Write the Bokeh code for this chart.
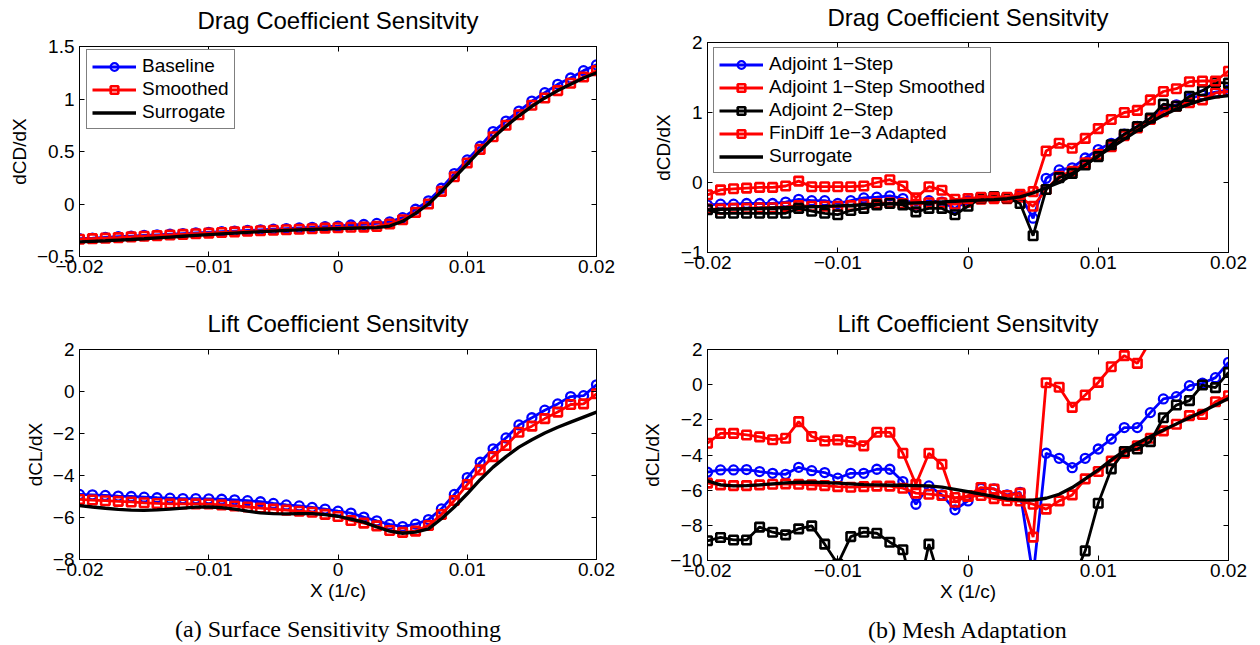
import numpy as np
from bokeh.plotting import figure
from bokeh.models import (Range1d, LinearAxis, FixedTicker, Legend, LegendItem,
                          CustomJSTickFormatter)
from bokeh.layouts import column, row
from bokeh.embed import file_html
from bokeh.resources import INLINE

# ---------------- data ----------------
x_pts = np.round(np.arange(-20, 21) * 0.001, 3)
x_ticks = [-0.02, -0.01, 0, 0.01, 0.02]

# (a) Surface sensitivity smoothing - drag
cd_baseline = [-0.33, -0.325, -0.318, -0.312, -0.306, -0.30, -0.294, -0.288, -0.282, -0.276,
               -0.27, -0.264, -0.258, -0.252, -0.246, -0.24, -0.234, -0.228, -0.222, -0.216,
               -0.21, -0.20, -0.195, -0.185, -0.17, -0.13, -0.05, 0.03, 0.15, 0.29,
               0.42, 0.55, 0.69, 0.79, 0.885, 0.98, 1.06, 1.14, 1.20, 1.27, 1.325]
cd_smoothed = [-0.335, -0.33, -0.325, -0.32, -0.313, -0.307, -0.301, -0.295, -0.289, -0.283,
               -0.277, -0.271, -0.265, -0.26, -0.255, -0.25, -0.245, -0.24, -0.235, -0.23,
               -0.226, -0.222, -0.22, -0.213, -0.19, -0.15, -0.08, 0.0, 0.12, 0.26,
               0.39, 0.52, 0.64, 0.75, 0.85, 0.94, 1.01, 1.08, 1.15, 1.21, 1.27]
cd_surrogate = [-0.36, -0.355, -0.35, -0.344, -0.338, -0.331, -0.323, -0.315, -0.307, -0.299,
                -0.291, -0.284, -0.277, -0.27, -0.264, -0.258, -0.252, -0.247, -0.242, -0.238,
                -0.234, -0.231, -0.228, -0.225, -0.21, -0.165, -0.09, 0.0, 0.12, 0.25,
                0.38, 0.51, 0.63, 0.74, 0.84, 0.93, 1.01, 1.08, 1.14, 1.20, 1.25]

# (a) lift
cl_baseline = [-4.9, -4.92, -4.95, -4.98, -5.0, -5.03, -5.06, -5.08, -5.1, -5.1,
               -5.11, -5.13, -5.16, -5.2, -5.25, -5.33, -5.4, -5.45, -5.52, -5.6,
               -5.7, -5.79, -5.98, -6.16, -6.33, -6.43, -6.32, -6.1, -5.59, -4.9,
               -4.1, -3.37, -2.73, -2.21, -1.59, -1.25, -0.89, -0.59, -0.24, -0.2, 0.32]
cl_smoothed = [-5.14, -5.17, -5.2, -5.23, -5.26, -5.3, -5.33, -5.35, -5.35, -5.35,
               -5.36, -5.4, -5.45, -5.5, -5.55, -5.6, -5.65, -5.7, -5.75, -5.85,
               -5.95, -6.14, -6.27, -6.4, -6.62, -6.71, -6.65, -6.38, -5.86, -5.19,
               -4.43, -3.73, -3.1, -2.57, -1.94, -1.65, -1.29, -0.98, -0.62, -0.59, -0.11]
cl_surrogate = [-5.43, -5.5, -5.56, -5.61, -5.65, -5.66, -5.64, -5.6, -5.55, -5.51,
                -5.5, -5.53, -5.6, -5.7, -5.78, -5.82, -5.83, -5.82, -5.82, -5.86,
                -5.94, -6.08, -6.22, -6.45, -6.65, -6.75, -6.7, -6.54, -6.06, -5.5,
                -4.87, -4.2, -3.6, -3.1, -2.65, -2.3, -1.98, -1.7, -1.46, -1.22, -0.98]

# (b) Mesh adaptation - drag
cd_adj1 = [-0.32, -0.31, -0.31, -0.30, -0.30, -0.30, -0.28, -0.24, -0.26, -0.26,
           -0.30, -0.26, -0.22, -0.21, -0.19, -0.23, -0.32, -0.26, -0.28, -0.37,
           -0.26, -0.22, -0.21, -0.22, -0.18, -0.51, 0.06, 0.18, 0.21, 0.35,
           0.47, 0.56, 0.69, 0.80, 0.91, 1.04, 1.11, 1.20, 1.25, 1.29, 1.32]
cd_adj1_smooth = [-0.38, -0.38, -0.37, -0.37, -0.36, -0.36, -0.35, -0.33, -0.34, -0.34,
                  -0.34, -0.33, -0.31, -0.30, -0.29, -0.30, -0.31, -0.29, -0.29, -0.31,
                  -0.28, -0.24, -0.23, -0.23, -0.21, -0.34, -0.10, 0.09, 0.16, 0.28,
                  0.40, 0.51, 0.67, 0.78, 0.90, 1.01, 1.09, 1.14, 1.18, 1.28, 1.30]
cd_adj2 = [-0.39, -0.44, -0.44, -0.44, -0.44, -0.44, -0.44, -0.37, -0.41, -0.44,
           -0.46, -0.40, -0.37, -0.32, -0.30, -0.32, -0.42, -0.37, -0.37, -0.46,
           -0.34, -0.22, -0.20, -0.22, -0.30, -0.76, -0.10, 0.07, 0.13, 0.25,
           0.37, 0.54, 0.69, 0.80, 0.92, 1.12, 1.09, 1.23, 1.31, 1.43, 1.42]
cd_findiff = [-0.176, -0.105, -0.09, -0.08, -0.07, -0.07, -0.05, 0.02, -0.06, -0.06,
              -0.06, -0.06, -0.05, 0.0, 0.04, -0.05, -0.22, -0.06, -0.11, -0.24,
              -0.23, -0.21, -0.21, -0.21, -0.17, -0.13, 0.45, 0.56, 0.49, 0.63,
              0.77, 0.90, 1.00, 1.03, 1.18, 1.30, 1.34, 1.44, 1.45, 1.45, 1.59]
cd_surr_b = [-0.39, -0.385, -0.38, -0.375, -0.37, -0.364, -0.358, -0.352, -0.346, -0.34,
             -0.333, -0.326, -0.32, -0.313, -0.306, -0.299, -0.292, -0.285, -0.277, -0.268,
             -0.26, -0.253, -0.245, -0.232, -0.205, -0.15, -0.075, 0.0, 0.11, 0.25,
             0.38, 0.50, 0.62, 0.74, 0.86, 0.96, 1.05, 1.12, 1.18, 1.22, 1.24]

# (b) lift
cl_adj1 = [-4.98, -4.85, -4.85, -4.83, -4.94, -5.04, -5.1, -4.7, -4.89, -5.0,
           -5.32, -5.04, -5.04, -4.81, -4.81, -5.51, -6.8, -5.76, -6.27, -7.12,
           -6.61, -5.9, -5.93, -6.27, -6.12, -10.9, -3.9, -4.19, -4.72, -4.19,
           -3.66, -3.09, -2.44, -2.44, -1.59, -0.81, -0.68, -0.06, 0.08, 0.4, 1.27]
cl_adj1_smooth = [-5.6, -5.7, -5.74, -5.74, -5.7, -5.66, -5.64, -5.66, -5.7, -5.74,
                  -5.8, -5.83, -5.8, -5.77, -5.77, -5.89, -6.17, -6.23, -6.3, -6.42,
                  -6.36, -6.3, -6.48, -6.6, -6.62, -6.8, -7.08, -6.61, -6.27, -5.36,
                  -4.94, -4.34, -3.9, -3.47, -3.05, -2.63, -2.25, -1.76, -1.69, -0.97, -0.63]
cl_adj2 = [-8.88, -8.69, -8.83, -8.83, -8.1, -8.39, -8.54, -8.2, -8.03, -9.07,
           -10.2, -8.64, -8.39, -8.45, -8.96, -9.39, -12.5, -9.07, -11.5, -12.0,
           -12.0, -12.0, -12.0, -12.0, -12.0, -13.0, -12.0, -12.0, -11.2, -9.45,
           -6.74, -4.79, -3.8, -3.66, -3.24, -1.88, -1.16, -0.91, -0.02, -0.17, 0.7]
cl_findiff = [-3.33, -2.77, -2.77, -2.86, -2.97, -3.13, -3.05, -2.1, -2.95, -3.2,
              -3.14, -3.24, -3.48, -2.71, -2.71, -3.9, -5.66, -3.9, -4.53, -6.69,
              -6.3, -5.85, -5.93, -6.3, -6.17, -8.67, 0.11, -0.15, -1.29, -0.59,
              0.13, 1.02, 1.65, 1.21, 2.5, 3.0, 3.3, 3.7, 4.0, 4.4, 4.8]
cl_surr_b = [-5.47, -5.7, -5.76, -5.74, -5.7, -5.64, -5.59, -5.55, -5.55, -5.57,
             -5.6, -5.64, -5.68, -5.7, -5.72, -5.72, -5.74, -5.76, -5.83, -5.95,
             -6.08, -6.23, -6.36, -6.5, -6.55, -6.57, -6.46, -6.23, -5.85, -5.36,
             -4.85, -4.28, -3.77, -3.33, -2.95, -2.58, -2.23, -1.88, -1.53, -1.16, -0.78]

# ---------------- styling ----------------
FONT = "Liberation Sans"
BLUE, RED, BLACK = "#0000ff", "#ff0000", "#000000"
FMT_CODE = "return (tick < 0 ? '\u2212' : '') + Math.abs(tick).toString();"


def make_panel(bl, br, bt, bb, fw, fh, yr, yticks, title, ylabel, xlabel=None,
               caption=None, title_standoff=11):
    p = figure(frame_width=fw, frame_height=fh,
               min_border_left=bl, min_border_right=br,
               min_border_top=bt, min_border_bottom=bb,
               x_range=Range1d(-0.02, 0.02), y_range=Range1d(*yr),
               x_axis_type=None, y_axis_type=None,
               output_backend="svg", toolbar_location=None)
    p.grid.visible = False
    p.outline_line_color = "black"
    p.outline_line_width = 1
    p.background_fill_color = "white"
    p.border_fill_color = "white"

    def style(ax, labels=True):
        ax.major_tick_in = 5
        ax.major_tick_out = 0
        ax.minor_tick_line_color = None
        ax.axis_line_color = "black"
        ax.major_tick_line_color = "black"
        if labels:
            ax.formatter = CustomJSTickFormatter(code=FMT_CODE)
            ax.major_label_text_font = FONT
            ax.major_label_text_font_size = "19px"
            ax.major_label_text_color = "black"
            ax.axis_label_text_font = FONT
            ax.axis_label_text_font_size = "19px"
            ax.axis_label_text_font_style = "normal"
            ax.axis_label_text_color = "black"
        else:
            ax.formatter = CustomJSTickFormatter(code="return '';")
            ax.major_label_text_font_size = "1px"
            ax.major_label_standoff = 0

    xb = LinearAxis(ticker=FixedTicker(ticks=x_ticks, minor_ticks=[]))
    style(xb)
    xb.major_label_standoff = 3
    if xlabel:
        xb.axis_label = xlabel
        xb.axis_label_standoff = 1
    p.add_layout(xb, "below")

    # top axis: inward ticks + the panel title as its label
    xt = LinearAxis(ticker=FixedTicker(ticks=x_ticks, minor_ticks=[]))
    style(xt, labels=False)
    xt.axis_label = title
    xt.axis_label_standoff = title_standoff
    xt.axis_label_text_font = FONT
    xt.axis_label_text_font_size = "24px"
    xt.axis_label_text_font_style = "normal"
    xt.axis_label_text_color = "black"
    p.add_layout(xt, "above")

    yl = LinearAxis(ticker=FixedTicker(ticks=yticks, minor_ticks=[]))
    style(yl)
    yl.major_label_standoff = 5
    yl.axis_label = ylabel
    yl.axis_label_standoff = 4
    p.add_layout(yl, "left")
    yr_ax = LinearAxis(ticker=FixedTicker(ticks=yticks, minor_ticks=[]))
    style(yr_ax, labels=False)
    p.add_layout(yr_ax, "right")

    if caption:
        cap = LinearAxis(ticker=FixedTicker(ticks=[], minor_ticks=[]),
                         axis_line_color=None, major_tick_line_color=None,
                         minor_tick_line_color=None,
                         major_label_text_font_size="1px",
                         major_label_standoff=0, major_tick_out=0, major_tick_in=0,
                         axis_label=caption, axis_label_standoff=12,
                         axis_label_text_font="Liberation Serif",
                         axis_label_text_font_size="24px",
                         axis_label_text_font_style="normal",
                         axis_label_text_color="black")
        p.add_layout(cap, "below")
    return p


def series(p, y, color, marker=None, lw=2.8):
    r = [p.line(x_pts, y, line_color=color, line_width=lw)]
    if marker == "circle":
        r.append(p.scatter(x_pts, y, marker="circle", size=9, line_color=color,
                           fill_color=None, line_width=2.3))
    elif marker == "square":
        r.append(p.scatter(x_pts, y, marker="square", size=8.5, line_color=color,
                           fill_color=None, line_width=2.6))
    return r


def add_legend(p, items, loc):
    lg = Legend(items=[LegendItem(label=lab, renderers=rs) for lab, rs in items],
                location=loc, margin=0, padding=5, spacing=1,
                glyph_width=44, glyph_height=19, label_height=19,
                label_standoff=6, label_text_font=FONT, label_text_font_size="19px",
                label_text_color="black", border_line_color="black",
                border_line_width=1, background_fill_color="white",
                background_fill_alpha=1.0)
    p.add_layout(lg)


# ---- (a) drag
p1 = make_panel(79, 34, 46, 44, 517, 210, (-0.5, 1.5), [-0.5, 0, 0.5, 1, 1.5],
                "Drag Coefficient Sensitvity", "dCD/dX", title_standoff=13)
r_b = series(p1, cd_baseline, BLUE, "circle")
r_s = series(p1, cd_smoothed, RED, "square")
r_g = series(p1, cd_surrogate, BLACK, None, lw=3.3)
add_legend(p1, [("Baseline", r_b), ("Smoothed", r_s), ("Surrogate", r_g)], (7, 127))

# ---- (b) drag
p2 = make_panel(77, 32, 41, 49, 521, 210, (-1, 2), [-1, 0, 1, 2],
                "Drag Coefficient Sensitvity", "dCD/dX", title_standoff=12)
q1 = series(p2, cd_adj1, BLUE, "circle")
q2 = series(p2, cd_adj1_smooth, RED, "square")
q3 = series(p2, cd_adj2, BLACK, "square")
q4 = series(p2, cd_findiff, RED, "square")
q5 = series(p2, cd_surr_b, BLACK, None, lw=3.3)
add_legend(p2, [("Adjoint 1\u2212Step", q1), ("Adjoint 1\u2212Step Smoothed", q2),
                ("Adjoint 2\u2212Step", q3), ("FinDiff 1e\u22123 Adapted", q4),
                ("Surrogate", q5)], (6, 79))

# ---- (a) lift
p3 = make_panel(79, 34, 49, 86, 517, 210, (-8, 2), [-8, -6, -4, -2, 0, 2],
                "Lift Coefficient Sensitvity", "dCL/dX", "X (1/c)",
                "(a) Surface Sensitivity Smoothing", title_standoff=13)
series(p3, cl_baseline, BLUE, "circle")
series(p3, cl_smoothed, RED, "square")
series(p3, cl_surrogate, BLACK, None, lw=3.3)

# ---- (b) lift
p4 = make_panel(77, 32, 48, 86, 521, 211, (-10, 2), [-10, -8, -6, -4, -2, 0, 2],
                "Lift Coefficient Sensitvity", "dCL/dX", "X (1/c)",
                "(b) Mesh Adaptation", title_standoff=13)
series(p4, cl_adj1, BLUE, "circle")
series(p4, cl_adj1_smooth, RED, "square")
series(p4, cl_adj2, BLACK, "square")
series(p4, cl_findiff, RED, "square")
series(p4, cl_surr_b, BLACK, None, lw=3.3)

layout = row(column(p1, p3), column(p2, p4))
open("out.html", "w").write(file_html(layout, INLINE))
